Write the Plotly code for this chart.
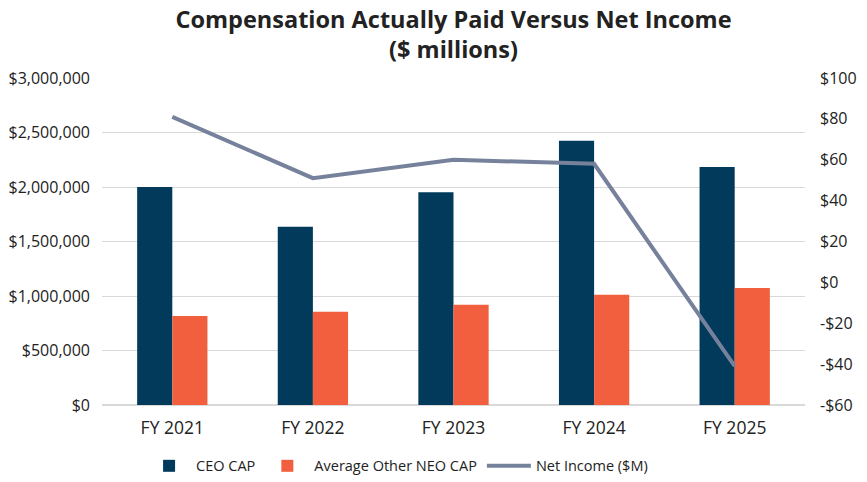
import plotly.graph_objects as go

categories = ["FY 2021", "FY 2022", "FY 2023", "FY 2024", "FY 2025"]
ceo_cap = [2000000, 1636000, 1951000, 2425000, 2183000]
neo_cap = [817000, 856000, 920000, 1012000, 1073000]
net_income = [81, 51, 60, 58, -41]

left_tickvals = [0, 500000, 1000000, 1500000, 2000000, 2500000, 3000000]
left_ticktext = ["$0", "$500,000", "$1,000,000", "$1,500,000", "$2,000,000", "$2,500,000", "$3,000,000"]
right_tickvals = [-60, -40, -20, 0, 20, 40, 60, 80, 100]
right_ticktext = ["-$60", "-$40", "-$20", "$0", "$20", "$40", "$60", "$80", "$100"]

FONT = "Open Sans"
TXT = "#222222"

fig = go.Figure()
fig.add_trace(go.Bar(x=categories, y=ceo_cap, name="CEO CAP", marker=dict(color="#023A5B", line=dict(width=0))))
fig.add_trace(go.Bar(x=categories, y=neo_cap, name="Average Other NEO CAP", marker=dict(color="#F25F3F", line=dict(width=0))))
fig.add_trace(go.Scatter(x=categories, y=net_income, name="Net Income ($M)", mode="lines",
                         line=dict(color="#76819B", width=4), yaxis="y2"))

fig.update_layout(
    width=859, height=474, autosize=False,
    margin=dict(l=94, r=62, t=70, b=77, autoexpand=False),
    paper_bgcolor="white", plot_bgcolor="white",
    font=dict(family=FONT, color=TXT, size=15),
    title=dict(text="<b>Compensation Actually Paid Versus Net Income<br>($ millions)</b>",
               x=0.5, xref="paper", xanchor="center", y=0.958, yanchor="top", yref="container",
               font=dict(family=FONT, size=23.5, color=TXT)),
    barmode="group", bargap=0.5, bargroupgap=0,
    xaxis=dict(showgrid=False, showline=False, ticks="", tickfont=dict(size=17.5), automargin=False,
               ticklabelstandoff=10),
    yaxis=dict(range=[0, 3000000], tickvals=left_tickvals, ticktext=left_ticktext,
               showgrid=True, gridcolor="#D9D9D9", gridwidth=1, zeroline=True, zerolinecolor="#D9D9D9",
               showline=False, ticks="", tickfont=dict(size=16), automargin=False, ticklabelstandoff=11),
    yaxis2=dict(range=[-60, 100], tickvals=right_tickvals, ticktext=right_ticktext,
                overlaying="y", side="right", showgrid=False, zeroline=False, showline=False,
                ticks="", tickfont=dict(size=16), automargin=False, ticklabelstandoff=14),
    legend=dict(orientation="h", x=0.057, xanchor="left", y=0.034, yanchor="middle", yref="container",
                font=dict(size=14.5), itemwidth=44, traceorder="normal"),
    hovermode=False,
)

fig.write_html("out.html")
